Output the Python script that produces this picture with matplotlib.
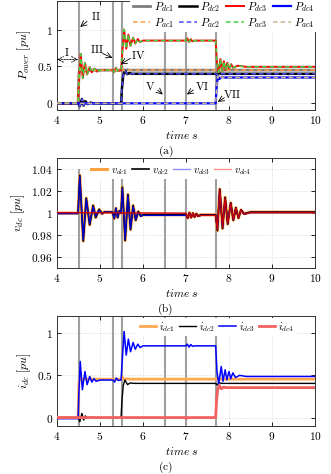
import matplotlib
matplotlib.use('Agg')
import matplotlib.pyplot as plt

plt.rcParams['mathtext.fontset'] = 'cm'
plt.rcParams['font.family'] = ['DejaVu Serif']
plt.rcParams['axes.unicode_minus'] = False

# ---------------- data ----------------
x_ticks = [4, 5, 6, 7, 8, 9, 10]
x_tick_labels = ['4', '5', '6', '7', '8', '9', '10']
event_times = [4.5, 5.3, 5.5, 6.5, 7.0, 7.7]
event_labels = ['I', 'II', 'III', 'IV', 'V', 'VI', 'VII']

# panel (a): powers
t_Pdc1 = [4.0, 4.49, 4.51, 4.54, 4.58, 4.63, 4.7, 5.49, 5.52, 5.56, 5.62, 5.7, 7.69, 7.72, 7.77, 7.83, 7.9, 10.0]
P_dc1 = [0.0, 0.0, 0.40, 0.47, 0.44, 0.455, 0.45, 0.45, 0.47, 0.44, 0.455, 0.45, 0.45, 0.44, 0.46, 0.445, 0.45, 0.45]
t_Pdc2 = [4.0, 4.5, 4.53, 4.58, 4.62, 4.66, 4.71, 4.78, 4.85, 5.49, 5.51, 5.54, 5.58, 5.63, 5.68, 5.75, 7.69, 7.72, 7.76, 7.82, 10.0]
P_dc2 = [0.0, 0.0, -0.04, 0.06, -0.03, 0.03, -0.01, 0.01, 0.0, 0.0, 0.2, 0.38, 0.44, 0.395, 0.41, 0.40, 0.40, 0.385, 0.41, 0.40, 0.40]
t_Pdc3 = [4.0, 4.49, 4.51, 4.55, 4.60, 4.65, 4.70, 4.76, 4.81, 4.87, 4.93, 5.0, 5.3, 5.33, 5.37, 5.41, 5.49,
          5.52, 5.56, 5.61, 5.66, 5.71, 5.77, 5.82, 5.88, 5.93, 6.0, 7.0, 7.03, 7.07, 7.11, 7.15, 7.2,
          7.69, 7.72, 7.76, 7.80, 7.84, 7.88, 7.92, 7.96, 8.0, 8.05, 8.1, 8.2, 8.4, 10.0]
P_dc3 = [0.0, 0.0, 0.3, 0.67, 0.34, 0.55, 0.39, 0.49, 0.42, 0.47, 0.43, 0.45, 0.45, 0.42, 0.48, 0.44, 0.45,
         0.7, 1.0, 0.74, 0.93, 0.78, 0.89, 0.81, 0.87, 0.83, 0.85, 0.85, 0.88, 0.83, 0.87, 0.84, 0.85,
         0.85, 0.55, 0.42, 0.60, 0.44, 0.57, 0.45, 0.55, 0.46, 0.53, 0.48, 0.51, 0.495, 0.495]
t_Pdc4 = [4.0, 7.69, 7.71, 7.74, 7.78, 7.83, 7.9, 10.0]
P_dc4 = [0.0, 0.0, 0.2, 0.37, 0.33, 0.36, 0.35, 0.35]
P_ac1 = list(P_dc1)
P_ac2 = list(P_dc2)
P_ac3 = list(P_dc3)
P_ac4 = list(P_dc4)

# panel (b): dc voltages
t_v = [4.0, 4.49, 4.53, 4.61, 4.68, 4.76, 4.84, 4.90, 4.98, 5.05, 5.1, 5.29, 5.33, 5.37, 5.41, 5.45, 5.49,
       5.52, 5.585, 5.65, 5.71, 5.77, 5.83, 5.89, 5.95, 6.0, 6.5, 7.0, 7.04, 7.08, 7.12, 7.16, 7.2, 7.24,
       7.28, 7.35, 7.69, 7.73, 7.785, 7.85, 7.91, 7.97, 8.04, 8.10, 8.16, 8.22, 8.28, 8.35, 8.5, 10.0]
v_dc1 = [1.0, 1.0, 1.0345, 0.9745, 1.0137, 0.9893, 1.007, 0.996, 1.0035, 0.9995, 1.001, 1.001, 0.995, 1.0045, 0.996, 1.002, 1.0,
         1.0237, 0.975, 1.017, 0.985, 1.007, 0.9935, 1.0015, 0.9975, 0.9985, 0.9985, 0.9985, 0.9955, 1.0005, 0.996, 1.0, 0.9965, 0.9995,
         0.9975, 0.9985, 0.9985, 0.984, 1.022, 0.986, 1.0145, 0.990, 1.0095, 0.9935, 1.005, 0.9955, 1.003, 0.9995, 1.001, 1.001]
v_dc2 = list(v_dc1)
v_dc3 = [0.9995, 0.9995, 1.0335, 0.9757, 1.0127, 0.9903, 1.006, 0.997, 1.003, 0.9995, 1.001, 1.001, 0.995, 1.0045, 0.996, 1.002, 1.0,
         1.0227, 0.976, 1.016, 0.986, 1.006, 0.994, 1.001, 0.997, 0.998, 0.998, 0.998, 0.9955, 1.0003, 0.996, 0.9998, 0.9965, 0.9993,
         0.997, 0.998, 0.998, 0.985, 1.021, 0.987, 1.0136, 0.991, 1.009, 0.994, 1.0045, 0.9955, 1.003, 0.999, 1.0005, 1.0005]
t_v4 = [4.0, 7.0, 7.04, 7.08, 7.12, 7.16, 7.2, 7.24, 7.28, 7.35, 7.69, 7.73, 7.785, 7.85, 7.91, 7.97, 8.04, 8.10,
        8.16, 8.22, 8.28, 8.35, 8.5, 10.0]
v_dc4 = [1.0005, 1.0, 0.9955, 1.0003, 0.996, 0.9998, 0.9965, 0.9993, 0.997, 0.998, 0.998, 0.985, 1.021, 0.987, 1.0136, 0.991, 1.009, 0.994,
         1.0045, 0.9955, 1.003, 0.999, 1.0005, 1.0005]

# panel (c): dc currents
t_i1 = [4.0, 4.49, 4.51, 4.54, 4.58, 4.63, 4.7, 5.49, 5.52, 5.56, 5.62, 5.7, 10.0]
i_dc1 = [0.0, 0.0, 0.42, 0.48, 0.44, 0.46, 0.455, 0.455, 0.48, 0.45, 0.46, 0.455, 0.455]
t_i2 = [4.0, 4.5, 4.53, 4.58, 4.62, 4.66, 4.71, 4.78, 4.85, 5.49, 5.51, 5.54, 5.58, 5.64, 5.7, 5.8, 7.69, 7.72, 7.77, 7.83, 10.0]
i_dc2 = [-0.01, -0.01, -0.05, 0.05, -0.03, 0.02, -0.01, 0.005, 0.0, 0.0, 0.2, 0.38, 0.445, 0.39, 0.41, 0.405, 0.405, 0.385, 0.415, 0.405, 0.405]
t_i3 = [4.0, 4.49, 4.51, 4.54, 4.59, 4.65, 4.70, 4.76, 4.81, 4.86, 4.91, 5.0, 5.3, 5.34, 5.38, 5.42, 5.49,
        5.52, 5.56, 5.61, 5.66, 5.71, 5.77, 5.82, 5.88, 5.93, 6.0, 7.0, 7.03, 7.07, 7.11, 7.15, 7.2,
        7.69, 7.72, 7.76, 7.82, 7.86, 7.91, 7.95, 8.0, 8.04, 8.09, 8.15, 8.25, 8.4, 10.0]
i_dc3 = [-0.012, -0.012, 0.3, 0.665, 0.33, 0.545, 0.39, 0.487, 0.42, 0.46, 0.43, 0.445, 0.445, 0.42, 0.47, 0.44, 0.445,
         0.7, 1.02, 0.74, 0.93, 0.78, 0.89, 0.81, 0.87, 0.83, 0.85, 0.85, 0.87, 0.835, 0.865, 0.845, 0.85,
         0.85, 0.55, 0.40, 0.605, 0.43, 0.566, 0.447, 0.546, 0.46, 0.53, 0.475, 0.50, 0.487, 0.487]
t_i4 = [4.0, 6.99, 7.01, 7.03, 7.69, 7.71, 7.74, 7.78, 7.82, 7.87, 7.95, 10.0]
i_dc4 = [0.0, 0.0, -0.012, 0.0, 0.0, 0.2, 0.34, 0.38, 0.34, 0.36, 0.355, 0.355]

# ---------------- figure ----------------
fig = plt.figure(figsize=(3.31, 4.74), dpi=100)
W, H = 331.0, 474.0
L, R = 57.0, 315.0


def make_ax(top, bottom):
    return fig.add_axes([L / W, 1 - bottom / H, (R - L) / W, (bottom - top) / H])


axA = make_ax(0.7, 110.0)
axB = make_ax(158.3, 268.0)
axC = make_ax(316.3, 426.0)

FS = 8.2
grid_col = '#cccccc'
ev_col = '#a0a0a0'


def style(ax, ylim, yticks, ylabels):
    ax.set_xlim(4, 10)
    ax.set_ylim(*ylim)
    ax.set_xticks(x_ticks, ['$%s$' % s for s in x_tick_labels])
    ax.set_yticks(yticks, ['$%s$' % s for s in ylabels])
    ax.tick_params(direction='in', length=3, width=0.6, top=True, right=True,
                   labelsize=FS, pad=3)
    ax.grid(True, linestyle=(0, (1, 2)), color=grid_col, linewidth=0.6)
    ax.set_axisbelow(True)
    for sp in ax.spines.values():
        sp.set_linewidth(0.7)
        sp.set_color('#333333')


style(axA, (-0.09, 1.39), [0, 0.5, 1], ['0', '0.5', '1'])
style(axB, (0.95, 1.05), [0.96, 0.98, 1.0, 1.02, 1.04], ['0.96', '0.98', '1', '1.02', '1.04'])
style(axC, (-0.1, 1.2), [0, 0.5, 1], ['0', '0.5', '1'])

for ax in (axA, axC):
    for t in event_times:
        ax.axvline(t, color=ev_col, lw=1.5, zorder=1.5)
for t in event_times:
    axB.vlines(t, 0.95, 1.04, color=ev_col, lw=1.5, zorder=1.5)

# panel (a)
h_dc1, = axA.plot(t_Pdc1, P_dc1, color='#7f7f7f', lw=2.0, label=r'$P_{dc1}$', zorder=3)
h_dc2, = axA.plot(t_Pdc2, P_dc2, color='black', lw=1.8, label=r'$P_{dc2}$', zorder=3)
h_dc3, = axA.plot(t_Pdc3, P_dc3, color='red', lw=1.4, label=r'$P_{dc3}$', zorder=3)
h_dc4, = axA.plot(t_Pdc4, P_dc4, color='blue', lw=1.6, label=r'$P_{dc4}$', zorder=3)
dash = (0, (3, 2))
h_ac1, = axA.plot(t_Pdc1, P_ac1, color='#ffa040', lw=1.1, ls=dash, label=r'$P_{ac1}$', zorder=4)
h_ac2, = axA.plot(t_Pdc2, P_ac2, color='#4a4aff', lw=1.1, ls=dash, label=r'$P_{ac2}$', zorder=4)
h_ac3, = axA.plot(t_Pdc3, P_ac3, color='#40d040', lw=1.1, ls=dash, label=r'$P_{ac3}$', zorder=4)
h_ac4, = axA.plot(t_Pdc4, P_ac4, color='#c8b490', lw=1.1, ls=dash, label=r'$P_{ac4}$', zorder=4)
order = [h_dc1, h_ac1, h_dc2, h_ac2, h_dc3, h_ac3, h_dc4, h_ac4]
legA = axA.legend(order, [h.get_label() for h in order],
                  ncol=4, loc='center', bbox_to_anchor=(0.645, 0.87), fontsize=8,
                  handlelength=1.6, handletextpad=0.3, columnspacing=0.5, labelspacing=0.15,
                  borderpad=0.2, frameon=True, fancybox=False, framealpha=1, edgecolor='none')
legA.set_zorder(10)

axA.set_ylabel(r'$P_{ower}\ [pu]$', fontsize=FS + 0.5, labelpad=3)

arr = dict(arrowstyle='->', lw=0.6, color='black', shrinkA=0, shrinkB=0)
axA.annotate('', xy=(4.49, 0.595), xytext=(4.0, 0.595),
             arrowprops=dict(arrowstyle='<->', lw=0.6, color='black', ls=(0, (2, 1.5)), shrinkA=0, shrinkB=0))
axA.text(4.24, 0.69, r'$\mathrm{%s}$' % event_labels[0], fontsize=FS, ha='center', va='center')
ann = [
    (event_labels[1], (4.90, 1.18), (4.70, 1.11), (4.54, 1.035)),
    (event_labels[2], (4.92, 0.73), (5.06, 0.675), (5.29, 0.616)),
    (event_labels[3], (5.90, 0.66), (5.71, 0.61), (5.48, 0.53)),
    (event_labels[4], (6.16, 0.235), (6.34, 0.18), (6.46, 0.12)),
    (event_labels[5], (7.38, 0.235), (7.17, 0.18), (7.02, 0.12)),
    (event_labels[6], (8.08, 0.12), (7.89, 0.076), (7.74, 0.02)),
]
for lab, tpos, a0, a1 in ann:
    axA.text(tpos[0], tpos[1], r'$\mathrm{%s}$' % lab, fontsize=FS, ha='center', va='center', zorder=6)
    axA.annotate('', xy=a1, xytext=a0, arrowprops=arr, zorder=6)

# panel (b)
hb1, = axB.plot(t_v, v_dc1, color='#ffa040', lw=2.2, label=r'$v_{dc1}$', zorder=3)
hb2, = axB.plot(t_v, v_dc2, color='black', lw=1.2, label=r'$v_{dc2}$', zorder=3)
hb3, = axB.plot(t_v, v_dc3, color='#0000cc', lw=1.0, label=r'$v_{dc3}$', zorder=3)
hb4, = axB.plot(t_v4, v_dc4, color='#cc0000', lw=1.0, label=r'$v_{dc4}$', zorder=3)
legB = axB.legend(handles=[hb1, hb2, hb3, hb4], ncol=4, loc='center', bbox_to_anchor=(0.442, 0.884),
                  fontsize=7.5, handlelength=1.6, handletextpad=0.3, columnspacing=0.4,
                  borderpad=0.2, frameon=True, fancybox=False, framealpha=1, edgecolor='none')
legB.get_lines()[2].set_color('#9090ff')
legB.get_lines()[3].set_color('#ff9090')
legB.set_zorder(10)
axB.set_ylabel(r'$v_{dc}\ [pu]$', fontsize=FS + 0.5, labelpad=3)

# panel (c)
hc1, = axC.plot(t_i1, i_dc1, color='#ffa850', lw=2.0, label=r'$i_{dc1}$', zorder=3)
hc2, = axC.plot(t_i2, i_dc2, color='black', lw=1.0, label=r'$i_{dc2}$', zorder=3)
hc3, = axC.plot(t_i3, i_dc3, color='blue', lw=1.1, label=r'$i_{dc3}$', zorder=3)
hc4, = axC.plot(t_i4, i_dc4, color='#f26060', lw=2.0, label=r'$i_{dc4}$', zorder=3)
legC = axC.legend(handles=[hc1, hc2, hc3, hc4], ncol=4, loc='center', bbox_to_anchor=(0.62, 0.905),
                  fontsize=7.5, handlelength=1.6, handletextpad=0.3, columnspacing=0.4,
                  borderpad=0.2, frameon=True, fancybox=False, framealpha=1, edgecolor='none')
legC.set_zorder(10)
axC.set_ylabel(r'$i_{dc}\ [pu]$', fontsize=FS + 0.5, labelpad=3)

# x labels and captions
for ax, bottom, cap in ((axA, 110.0, '(a)'), (axB, 268.0, '(b)'), (axC, 426.0, '(c)')):
    fig.text((L + R) / 2 / W - 0.012, 1 - (bottom + 25) / H, r'$time\ s$', fontsize=FS, ha='center', va='center')
    fig.text(165.5 / W, 1 - (bottom + 41) / H, r'$\mathrm{%s}$' % cap, fontsize=FS, ha='center', va='center')

fig.savefig('out.png', dpi=100)
